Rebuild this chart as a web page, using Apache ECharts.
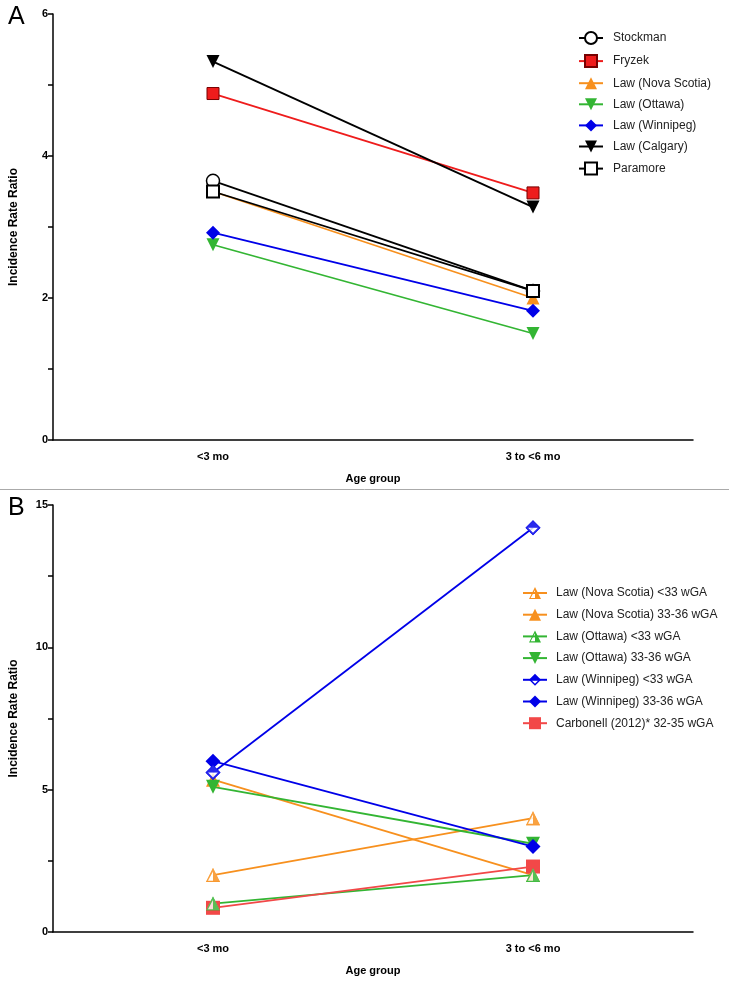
<!DOCTYPE html>
<html><head><meta charset="utf-8">
<script src="https://cdn.jsdelivr.net/npm/echarts@6/dist/echarts.min.js"></script>
<style>html,body{margin:0;padding:0;background:#fff}#c{width:729px;height:984px}</style>
</head><body><div id="c"></div>
<script>
const categories = ['<3 mo', '3 to <6 mo'];
// Panel A
const stockman = [3.65, 2.10];
const fryzek = [4.88, 3.48];
const lawNovaScotia = [3.50, 2.00];
const lawOttawa = [2.75, 1.50];
const lawWinnipeg = [2.92, 1.82];
const lawCalgary = [5.33, 3.28];
const paramore = [3.50, 2.10];
const ticksA = [0, 2, 4, 6];
// Panel B
const nsLt33 = [2.0, 4.0];
const ns3336 = [5.35, 2.0];
const ottLt33 = [1.0, 2.0];
const ott3336 = [5.1, 3.1];
const winLt33 = [5.6, 14.2];
const win3336 = [6.0, 3.0];
const carbonell = [0.85, 2.3];
const ticksB = [0, 5, 10, 15];

const ORANGE = '#f7901e', GREEN = '#33b533', BLUE = '#0000e8', RED = '#ee1c1c', RED2 = '#f24848';
const TRI_DOWN = 'path://M0,0L100,0L50,100Z';
const TRI_HALF = 'path://M50,0L100,100L0,100Z M50,24L14,91L86,91Z M50,0L100,100L50,100Z';
const DIA_HALF = 'path://M50,0L100,50L50,100L0,50Z M50,17L17,50L50,83L83,50Z M50,0L100,50L0,50Z';
const FONT = 'Liberation Sans, Arial, sans-serif';

function xAxis(gi) {
  return {
    type: 'category', gridIndex: gi, data: categories, boundaryGap: true,
    name: 'Age group', nameLocation: 'middle', nameGap: 33,
    nameTextStyle: {fontFamily: FONT, fontWeight: 'bold', fontSize: 11, color: '#000'},
    axisLine: {lineStyle: {color: '#000', width: 1.5}},
    axisTick: {alignWithLabel: true, length: 5, lineStyle: {color: '#000', width: 1.5}},
    axisLabel: {fontFamily: FONT, fontWeight: 'bold', fontSize: 11, color: '#000', margin: 11},
    splitLine: {show: false}
  };
}
function yAxis(gi, ticks) {
  return {
    type: 'value', gridIndex: gi, min: ticks[0], max: ticks[ticks.length - 1],
    interval: ticks[1] - ticks[0],
    name: 'Incidence Rate Ratio', nameLocation: 'middle', nameGap: 33, nameRotate: 90,
    nameTextStyle: {fontFamily: FONT, fontWeight: 'bold', fontSize: 12, color: '#000'},
    axisLine: {show: true, lineStyle: {color: '#000', width: 1.5}},
    axisTick: {show: true, length: 5, lineStyle: {color: '#000', width: 1.5}},
    minorTick: {show: true, splitNumber: 2, length: 5, lineStyle: {color: '#000', width: 1.5}},
    axisLabel: {fontFamily: FONT, fontWeight: 'bold', fontSize: 11, color: '#000', margin: 5},
    splitLine: {show: false}
  };
}
function ser(name, data, gi, color, symbol, itemStyle, size, extra) {
  return Object.assign({
    name, type: 'line', data, xAxisIndex: gi, yAxisIndex: gi,
    symbol, symbolSize: size || 13, showSymbol: true,
    lineStyle: {color, width: 1.8}, itemStyle: Object.assign({color}, itemStyle || {}),
    emphasis: {disabled: true}, animation: false, z: 2
  }, extra || {});
}
function overlay(data, gi, symbol, color, z, size) {
  return {
    name: '_ov' + z + symbol, type: 'scatter', data, xAxisIndex: gi, yAxisIndex: gi,
    symbol, symbolSize: size, itemStyle: {color}, silent: true, z, animation: false
  };
}

const series = [
  ser('Stockman', stockman, 0, '#000', 'circle', {color: '#fff', borderColor: '#000', borderWidth: 1.5}),
  ser('Fryzek', fryzek, 0, RED, 'rect', {borderColor: '#700', borderWidth: 1}, 12),
  ser('Law (Nova Scotia)', lawNovaScotia, 0, ORANGE, 'triangle', null, 13),
  ser('Law (Ottawa)', lawOttawa, 0, GREEN, TRI_DOWN, null, 13),
  ser('Law (Winnipeg)', lawWinnipeg, 0, BLUE, 'diamond', null, 14),
  ser('Law (Calgary)', lawCalgary, 0, '#000', TRI_DOWN, null, 13),
  ser('Paramore', paramore, 0, '#000', 'rect', {color: '#fff', borderColor: '#000', borderWidth: 2}, 12),

  ser('Law (Nova Scotia) <33 wGA', nsLt33, 1, ORANGE, TRI_HALF, null, 14),
  ser('Law (Nova Scotia) 33-36 wGA', ns3336, 1, ORANGE, 'triangle', null, 14),
  ser('Law (Ottawa) <33 wGA', ottLt33, 1, GREEN, TRI_HALF, null, 14),
  ser('Law (Ottawa) 33-36 wGA', ott3336, 1, GREEN, TRI_DOWN, null, 14),
  ser('Law (Winnipeg) <33 wGA', winLt33, 1, BLUE, DIA_HALF, null, 15),
  ser('Law (Winnipeg) 33-36 wGA', win3336, 1, BLUE, 'diamond', null, 15),
  ser('Carbonell (2012)* 32-35 wGA', carbonell, 1, RED2, 'rect', null, 14),

  overlay(nsLt33, 1, 'triangle', '#fff', 3, 13),
  overlay(nsLt33, 1, TRI_HALF, ORANGE, 4, 14),
  overlay(ottLt33, 1, 'triangle', '#fff', 3, 13),
  overlay(ottLt33, 1, TRI_HALF, GREEN, 4, 14),
  overlay(winLt33, 1, 'diamond', '#fff', 3, 14),
  overlay(winLt33, 1, DIA_HALF, BLUE, 4, 15)
];

const chart = echarts.init(document.getElementById('c'), null, {renderer: 'canvas'});
chart.setOption({
  animation: false,
  backgroundColor: '#fff',
  grid: [
    {left: 53, top: 14, width: 640, height: 426},
    {left: 53, top: 505, width: 640, height: 427}
  ],
  xAxis: [xAxis(0), xAxis(1)],
  yAxis: [yAxis(0, ticksA), yAxis(1, ticksB)],
  legend: [
    {left: 573, top: 26, orient: 'vertical', itemWidth: 24, itemHeight: 15, itemGap: 9.1,
     textStyle: {fontFamily: FONT, fontSize: 12, color: '#222', padding: [0, 0, 0, 5]}, selectedMode: false,
     data: ['Stockman', 'Fryzek', 'Law (Nova Scotia)', 'Law (Ottawa)', 'Law (Winnipeg)', 'Law (Calgary)', 'Paramore']},
    {left: 517, top: 582, orient: 'vertical', itemWidth: 24, itemHeight: 15, itemGap: 9.7,
     textStyle: {fontFamily: FONT, fontSize: 12, color: '#222', padding: [0, 0, 0, 4]}, selectedMode: false,
     data: ['Law (Nova Scotia) <33 wGA', 'Law (Nova Scotia) 33-36 wGA', 'Law (Ottawa) <33 wGA', 'Law (Ottawa) 33-36 wGA', 'Law (Winnipeg) <33 wGA', 'Law (Winnipeg) 33-36 wGA', 'Carbonell (2012)* 32-35 wGA']}
  ],
  graphic: [
    {type: 'text', left: 8, top: 5, style: {text: 'A', font: '25px ' + FONT, fill: '#000'}},
    {type: 'text', left: 8, top: 496, style: {text: 'B', font: '25px ' + FONT, fill: '#000'}},
    {type: 'line', shape: {x1: 0, y1: 489.5, x2: 729, y2: 489.5}, style: {stroke: '#aaa', lineWidth: 1}}
  ],
  series
});
</script></body></html>
